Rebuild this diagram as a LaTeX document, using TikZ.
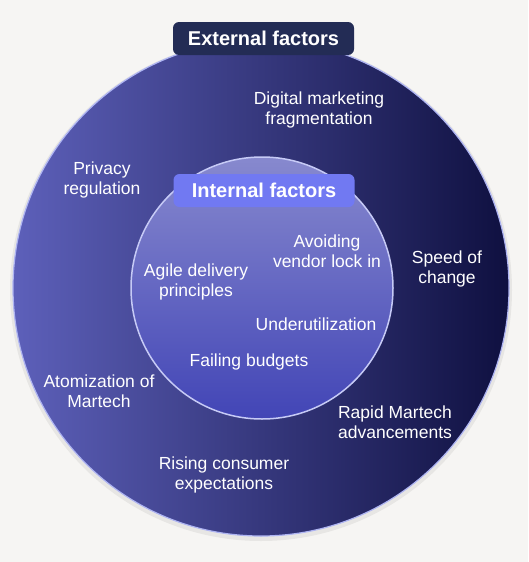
\documentclass[tikz,border=0pt]{standalone}
\usepackage{fontspec}
\setmainfont{Liberation Sans}
\usepackage{tikz}

\definecolor{bgcol}{HTML}{F6F5F3}
\definecolor{outerL}{HTML}{5D60BA}
\definecolor{outerM}{HTML}{3C3E8E}
\definecolor{outerR}{HTML}{0F1040}
\definecolor{innerT}{HTML}{8789CE}
\definecolor{innerB}{HTML}{4245B6}
\definecolor{ringcol}{HTML}{AEB4F2}
\definecolor{extcol}{HTML}{232C55}
\definecolor{intcol}{HTML}{7179F2}

\tikzset{
  factor/.style={text=white, align=center, yshift=-1.5pt, font=\fontsize{17.5}{20}\selectfont},
  tagbox/.style={text=white, rounded corners=6pt, minimum width=181pt,
    minimum height=33pt, inner sep=0pt, font=\fontsize{20}{24}\selectfont\bfseries}
}

\begin{document}
\begin{tikzpicture}[x=1pt,y=-1pt]
    \fill[bgcol] (0,0) rectangle (528,562);
    \useasboundingbox (0,0) rectangle (528,562);

    % outer ring
    \fill[black, opacity=0.06] (261,290) circle (251);
    \shade[left color=outerL, middle color=outerM, right color=outerR] (261,288) circle (248);
    \draw[ringcol, line width=1.2pt] (261,288) circle (248);

    % inner circle
    \shade[top color=innerT, bottom color=innerB] (262,288) circle (131);
    \draw[ringcol!70!white, line width=1.5pt] (262,288) circle (131);

    \node[tagbox, fill=extcol] (ext) at (263.5,38.5) {External factors};
    \node[tagbox, fill=intcol] (int) at (264,190.5) {Internal factors};

    \node[factor] (digital) at (319,108.5) {Digital marketing\\fragmentation};
    \node[factor] (privacy) at (102,178.5) {Privacy\\regulation};
    \node[factor] (speed) at (447,267) {Speed of\\change};
    \node[factor] (atom) at (99,390) {Atomization of\\Martech};
    \node[factor] (rapid) at (395,421) {Rapid Martech\\advancements};
    \node[factor] (rising) at (224,473) {Rising consumer\\expectations};

    \node[factor] (agile) at (196,280) {Agile delivery\\principles};
    \node[factor] (vendor) at (327,250) {Avoiding\\vendor lock in};
    \node[factor] (under) at (316,323) {Underutilization};
    \node[factor] (budget) at (249,360) {Failing budgets};
\end{tikzpicture}
\end{document}
